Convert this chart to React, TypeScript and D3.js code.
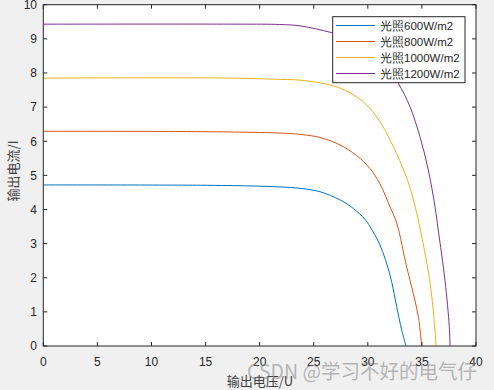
import React from "react";
import * as d3 from "d3";

const seriesNames = ["光照600W/m2", "光照800W/m2", "光照1000W/m2", "光照1200W/m2"];
const seriesColors = ["#0072BD", "#D95319", "#EDB120", "#7E2F8E"];

const v600 = [0, 14.5, 19.1, 21.9, 23.73, 25.58, 27.43, 28.66, 29.74, 30.2, 31.12, 32.05, 32.67, 33.13, 33.53];
const i600 = [4.72, 4.71, 4.69, 4.66, 4.62, 4.52, 4.28, 4.03, 3.71, 3.5, 2.96, 2.08, 1.15, 0.47, 0];

const v800 = [0, 14.5, 21.87, 23.73, 25.58, 27.43, 28.97, 30.2, 31.12, 32.05, 32.67, 33.59, 34.2, 34.67, 34.98];
const i800 = [6.29, 6.28, 6.24, 6.2, 6.11, 5.89, 5.58, 5.2, 4.75, 4.08, 3.6, 2.32, 1.54, 0.86, 0];

const v1000 = [0, 17.25, 22.0, 23.73, 26.49, 28.35, 29.9, 31.13, 32.05, 32.97, 33.89, 34.66, 35.74, 36.2, 36.3];
const i1000 = [7.85, 7.85, 7.81, 7.79, 7.65, 7.42, 7.06, 6.57, 6.04, 5.42, 4.65, 3.69, 1.88, 0.47, 0];

const v1200 = [0, 18.0, 21.87, 23.73, 26.66, 29.28, 30.2, 31.59, 32.82, 33.9, 34.82, 35.59, 36.21, 36.51, 37.13, 37.53, 37.6];
const i1200 = [9.43, 9.43, 9.42, 9.38, 9.18, 8.91, 8.73, 8.32, 7.7, 7.01, 6.13, 5.16, 4.08, 3.4, 1.93, 0.57, 0];

const xTicks = [0, 5, 10, 15, 20, 25, 30, 35, 40];
const yTicks = [0, 1, 2, 3, 4, 5, 6, 7, 8, 9, 10];

const W = 494;
const H = 390;
const L = 43.3, R = 476, T = 4.7, B = 346;

export default function App() {
  const x = d3.scaleLinear().domain([0, 40]).range([L, R]);
  const y = d3.scaleLinear().domain([0, 10]).range([B, T]);
  const line = d3
    .line<[number, number]>()
    .x((d) => x(d[0]))
    .y((d) => y(d[1]))
    .curve(d3.curveCatmullRom.alpha(0.5));
  const data: [number[], number[]][] = [
    [v600, i600],
    [v800, i800],
    [v1000, i1000],
    [v1200, i1200],
  ];
  const font = "'Liberation Sans', Arial, Helvetica, sans-serif";
  const tick = 4;
  const legX = 332.7, legY = 16.7, legW = 132.3, legH = 66;
  const rowYs = [25.5, 41.5, 57.5, 73.5];
  return (
    <svg
      width={W}
      height={H}
      style={{ position: "absolute", left: 0, top: 0, display: "block" }}
    >
      <rect x={0} y={0} width={W} height={H} fill="#F0F0F0" />
      <rect x={L} y={T} width={R - L} height={B - T} fill="#FFFFFF" />
      <defs>
        <clipPath id="plotclip">
          <rect x={L} y={T} width={R - L} height={B - T} />
        </clipPath>
      </defs>
      <g clipPath="url(#plotclip)">
        {data.map(([vs, is], k) => (
          <path
            key={k}
            d={line(vs.map((v, j) => [v, is[j]] as [number, number])) || ""}
            fill="none"
            stroke={seriesColors[k]}
            strokeWidth={1}
          />
        ))}
      </g>
      <rect x={L} y={T} width={R - L} height={B - T} fill="none" stroke="#262626" strokeWidth={1} />
      {xTicks.map((t) => (
        <g key={"x" + t}>
          <line x1={x(t)} x2={x(t)} y1={B} y2={B - tick} stroke="#262626" />
          <line x1={x(t)} x2={x(t)} y1={T} y2={T + tick} stroke="#262626" />
          <text
            x={x(t)}
            y={366}
            textAnchor="middle"
            fontFamily={font}
            fontSize={12}
            fill="#262626"
          >
            {t}
          </text>
        </g>
      ))}
      {yTicks.map((t) => (
        <g key={"y" + t}>
          <line x1={L} x2={L + tick} y1={y(t)} y2={y(t)} stroke="#262626" />
          <line x1={R} x2={R - tick} y1={y(t)} y2={y(t)} stroke="#262626" />
          <text
            x={37}
            y={y(t) + 4.3}
            textAnchor="end"
            fontFamily={font}
            fontSize={12}
            fill="#262626"
          >
            {t}
          </text>
        </g>
      ))}
      <text
        x={260}
        y={386}
        textAnchor="middle"
        fontFamily="'Noto Sans CJK SC', sans-serif"
        fontSize={13}
        fill="#404040"
      >
        输出电压/U
      </text>
      <text
        transform={`translate(18,171) rotate(-90)`}
        textAnchor="middle"
        fontFamily="'Noto Sans CJK SC', sans-serif"
        fontSize={13}
        fill="#404040"
      >
        输出电流/I
      </text>
      <rect x={legX} y={legY} width={legW} height={legH} fill="#FFFFFF" stroke="#262626" strokeWidth={1} />
      {seriesNames.map((n, k) => (
        <g key={n}>
          <line x1={336} x2={375} y1={rowYs[k]} y2={rowYs[k]} stroke={seriesColors[k]} strokeWidth={1} />
          <text
            x={380}
            y={rowYs[k] + 4.2}
            fontFamily={font}
            fontSize={11.5}
            fill="#262626"
          >
            {n}
          </text>
        </g>
      ))}
      <text
        x={247}
        y={379}
        fontFamily="'Noto Sans CJK SC', sans-serif"
        fontSize={20}
        fill="#808080"
        fillOpacity={0.55}
        textLength={230}
        lengthAdjust="spacingAndGlyphs"
      >
        CSDN @学习不好的电气仔
      </text>
    </svg>
  );
}
